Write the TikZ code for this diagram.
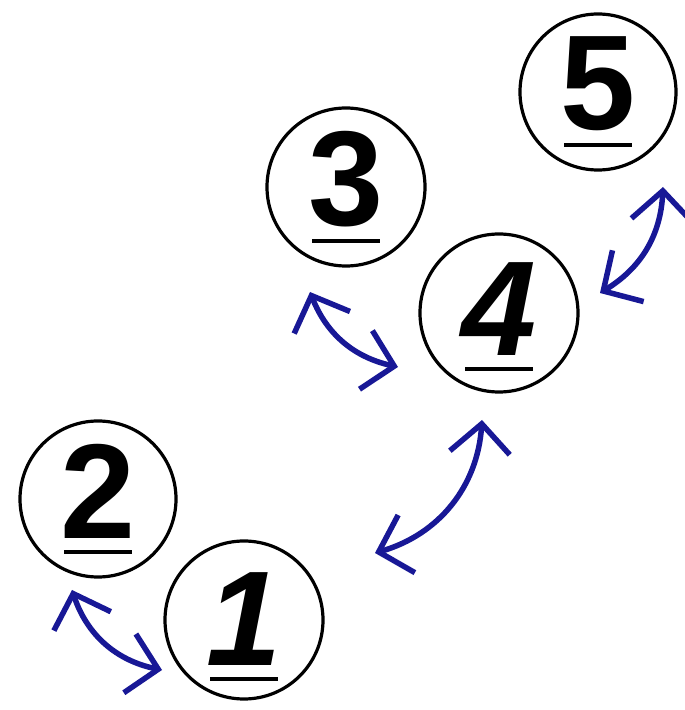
\documentclass[tikz,border=0pt]{standalone}
\usepackage{fontspec}
\setmainfont{Liberation Sans}
\usetikzlibrary{arrows.meta}
\definecolor{arrowblue}{RGB}{24,24,150}
\newcommand\numlab[2]{\vbox{\offinterlineskip\halign{\hfil##\hfil\cr\fontsize{135}{135}\selectfont\bfseries#1#2\cr\noalign{\kern12pt}\rule{68pt}{4pt}\cr}}}
\tikzset{
  ring/.style={circle,draw,line width=3.2pt,inner sep=0pt,minimum size=#1},
  numtext/.style={inner sep=0pt},
  barb/.tip={Straight Barb[length=29pt,width=60pt]},
  link/.style={draw=arrowblue,line width=5.5pt,barb-barb}
}
\begin{document}
\begin{tikzpicture}[x=1pt,y=1pt]
\useasboundingbox (0,0) rectangle (685,710);
% circles (y = 710 - pixel y)
\node[ring=158pt,label={[numtext,yshift=-7pt]center:\numlab{\itshape}{1}}] (n1) at (244,90) {};
\node[ring=156pt,label={[numtext]center:\numlab{}{2}}] (n2) at (98,211) {};
\node[ring=158pt,label={[numtext]center:\numlab{}{3}}] (n3) at (346,523) {};
\node[ring=158pt,label={[numtext,yshift=-4pt]center:\numlab{\itshape}{4}}] (n4) at (499,397) {};
\node[ring=156pt,label={[numtext]center:\numlab{}{5}}] (n5) at (598,618) {};
% arrow ends
\coordinate (a21s) at (72,120);
\coordinate (a21e) at (162,40);
\coordinate (a34s) at (310,418);
\coordinate (a34e) at (398,343);
\coordinate (a14s) at (375,157);
\coordinate (a14e) at (482,290);
\coordinate (a45s) at (600,417);
\coordinate (a45e) at (663,523);
\draw[link] (a21s) to[bend right=30] (a21e);
\draw[link] (a34s) to[bend right=28] (a34e);
\draw[link] (a14s) to[bend right=35] (a14e);
\draw[link] (a45s) to[bend right=28] (a45e);
\end{tikzpicture}
\end{document}
